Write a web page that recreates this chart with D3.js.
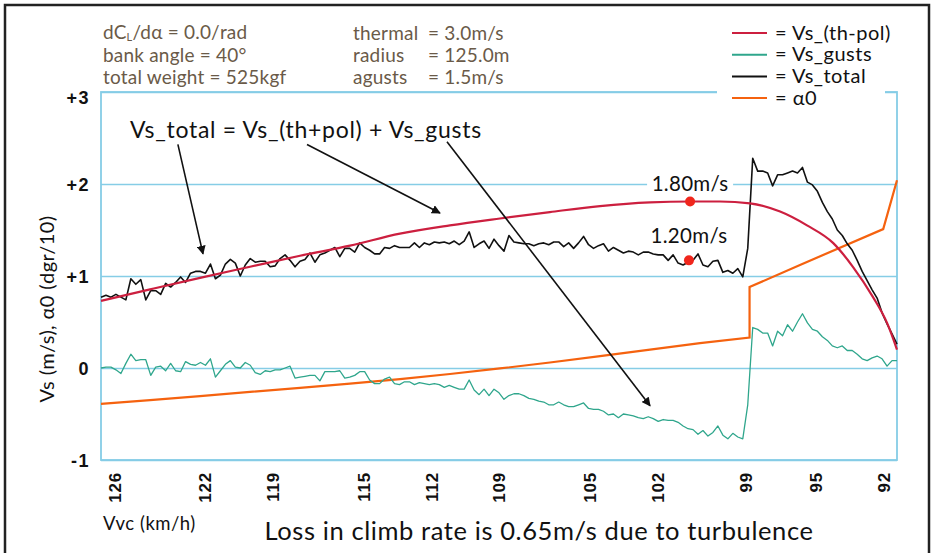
<!DOCTYPE html>
<html>
<head>
  <meta charset="utf-8">
  <title>Vs components vs Vvc</title>
  <script src="https://d3js.org/d3.v7.min.js"></script>
  <style>
    body { margin: 0; background: #fff; }
    svg { font-family: Lato, "Open Sans", sans-serif; }
    .grid line { stroke: #86cde6; stroke-width: 1.6; }
    .tick text { font-weight: 700; fill: #111; }
    .param { fill: #6a5a48; font-size: 19px; letter-spacing: 0.2px; }
    .legend text { font-size: 20px; fill: #111; letter-spacing: 0.5px; }
    .note { font-size: 23px; fill: #111; letter-spacing: 0.7px; }
  </style>
</head>
<body>

<svg width="934" height="553"></svg>

<script>
  // x axis: Vvc (km/h), y axis: Vs (m/s) and alpha0 (dgr/10)
  const xTickValues = [126, 122, 119, 115, 112, 109, 105, 102, 98.1, 95, 92];
  const xTickLabels = ["126", "122", "119", "115", "112", "109", "105", "102", "99", "95", "92"];
  const yTickValues = [-1, 0, 1, 2, 3];
  const yTickLabels = ["-1", "0", "+1", "+2", "+3"];

  // Vs_(th-pol), smooth curve
  const polVvc = [126.6, 124.43, 122.22, 120.01, 117.8, 115.59, 113.38, 111.17, 108.96, 106.75,
                  104.53, 102.32, 100.55, 99.23, 97.9, 96.57, 95.38, 94.23, 93.35, 92.46, 91.84, 91.4];
  const polVs  = [0.73, 0.855, 0.98, 1.10, 1.22, 1.33, 1.46, 1.55, 1.625, 1.695,
                  1.76, 1.80, 1.81, 1.81, 1.79, 1.70, 1.55, 1.36, 1.10, 0.77, 0.49, 0.20];

  // alpha0 (dgr/10)
  const alphaVvc = [126.6, 124.43, 122.22, 120.01, 117.8, 115.59, 113.38, 111.17, 108.96, 106.75,
                    104.53, 102.32, 100.11, 97.92, 97.92, 95.69, 92.01, 91.4];
  const alpha0   = [-0.39, -0.35, -0.305, -0.26, -0.215, -0.17, -0.12, -0.065, -0.005, 0.06,
                    0.13, 0.20, 0.27, 0.33, 0.88, 1.12, 1.51, 2.04];

  // noisy series, sampled every 0.22 km/h starting at 126.6
  const sampleStart = 126.6;
  const sampleStep = -0.22;
  const vsTotal = [
    0.77, 0.79, 0.77, 0.80, 0.77, 0.74, 0.97, 0.91, 0.96, 0.74,
    0.84, 0.84, 0.80, 0.92, 0.88, 0.93, 0.99, 0.93, 1.03, 1.05,
    1.05, 1.03, 1.13, 0.97, 1.01, 1.13, 1.18, 1.14, 1.00, 1.12,
    1.19, 1.15, 1.16, 1.16, 1.10, 1.11, 1.19, 1.23, 1.17, 1.10,
    1.16, 1.18, 1.25, 1.15, 1.23, 1.25, 1.28, 1.31, 1.21, 1.30,
    1.30, 1.26, 1.36, 1.31, 1.28, 1.24, 1.24, 1.31, 1.30, 1.33,
    1.31, 1.31, 1.31, 1.36, 1.31, 1.36, 1.34, 1.37, 1.36, 1.37,
    1.35, 1.38, 1.34, 1.38, 1.48, 1.31, 1.35, 1.38, 1.30, 1.40,
    1.33, 1.27, 1.44, 1.37, 1.36, 1.35, 1.35, 1.33, 1.35, 1.36,
    1.34, 1.37, 1.37, 1.32, 1.36, 1.30, 1.36, 1.43, 1.34, 1.30,
    1.33, 1.35, 1.27, 1.31, 1.28, 1.25, 1.27, 1.26, 1.23, 1.26,
    1.26, 1.24, 1.23, 1.23, 1.17, 1.23, 1.14, 1.12, 1.15, 1.17,
    1.24, 1.12, 1.10, 1.16, 1.17, 1.04, 1.06, 1.03, 1.08, 0.99,
    1.30, 2.28, 2.14, 2.14, 2.12, 1.98, 2.10, 2.10, 2.12, 2.14,
    2.12, 2.18, 2.02, 1.99, 1.92, 1.80, 1.70, 1.62, 1.50, 1.44,
    1.35, 1.28, 1.17, 1.05, 0.95, 0.85, 0.76, 0.60, 0.48, 0.37,
    0.26
  ];
  const vsGusts = [
    0.00, 0.01, 0.01, -0.02, -0.06, 0.05, 0.15, 0.08, 0.09, 0.09,
    -0.08, 0.01, 0.02, -0.03, 0.05, -0.03, -0.04, 0.07, 0.04, 0.03,
    0.06, 0.03, 0.10, -0.10, -0.03, 0.04, 0.08, 0.01, 0.00, 0.06,
    0.03, -0.05, -0.07, -0.03, -0.04, -0.02, -0.02, 0.00, 0.02, -0.11,
    -0.10, -0.09, -0.08, -0.08, -0.14, -0.04, -0.04, -0.04, -0.03, -0.11,
    -0.10, -0.08, -0.04, -0.04, -0.13, -0.17, -0.17, -0.12, -0.10, -0.17,
    -0.18, -0.15, -0.15, -0.18, -0.16, -0.17, -0.18, -0.17, -0.18, -0.21,
    -0.19, -0.21, -0.23, -0.23, -0.13, -0.24, -0.29, -0.23, -0.30, -0.23,
    -0.27, -0.34, -0.30, -0.28, -0.28, -0.30, -0.33, -0.34, -0.36, -0.37,
    -0.40, -0.40, -0.37, -0.40, -0.42, -0.42, -0.40, -0.38, -0.44, -0.45,
    -0.45, -0.47, -0.51, -0.50, -0.54, -0.50, -0.51, -0.52, -0.54, -0.55,
    -0.53, -0.55, -0.58, -0.56, -0.57, -0.57, -0.59, -0.63, -0.66, -0.67,
    -0.72, -0.68, -0.74, -0.70, -0.63, -0.73, -0.77, -0.71, -0.75, -0.77,
    -0.40, 0.44, 0.42, 0.38, 0.38, 0.24, 0.40, 0.35, 0.47, 0.40,
    0.50, 0.59, 0.49, 0.42, 0.40, 0.34, 0.30, 0.24, 0.22, 0.24,
    0.19, 0.19, 0.15, 0.10, 0.08, 0.11, 0.13, 0.10, 0.02, 0.08,
    0.08
  ];

  // marked points
  const markVvc = [100.55, 100.6];
  const markVs = [1.81, 1.17];
  const markLabels = ["1.80m/s", "1.20m/s"];
  const markLabelVs = [1.92, 1.36];

  const seriesNames = ["= Vs_(th-pol)", "= Vs_gusts", "= Vs_total", "= \u03b10"];
  const seriesColors = ["#cc1f3f", "#2fa68c", "#111111", "#f5620f"];

  const svg = d3.select("svg");
  const W = 934, H = 553;
  const margin = { top: 92, right: 37, bottom: 93, left: 101 };

  const x = d3.scaleLinear().domain([126.6, 91.4]).range([margin.left, W - margin.right]);
  const y = d3.scaleLinear().domain([-1, 3]).range([H - margin.bottom, margin.top]);

  // outer frame
  svg.append("rect")
    .attr("x", 5).attr("y", 5).attr("width", 924).attr("height", 560)
    .attr("fill", "none").attr("stroke", "#222").attr("stroke-width", 2.5);

  // grid lines and plot border
  svg.append("g")
    .attr("class", "grid")
    .attr("transform", `translate(${margin.left},0)`)
    .call(d3.axisLeft(y).tickValues(yTickValues).tickSize(-(x.range()[1] - x.range()[0])).tickFormat(""))
    .call(g => g.select(".domain").remove());
  svg.append("rect")
    .attr("x", x.range()[0]).attr("y", y(3))
    .attr("width", x.range()[1] - x.range()[0]).attr("height", y(-1) - y(3))
    .attr("fill", "none").attr("stroke", "#86cde6").attr("stroke-width", 1.8);

  // y axis labels
  const yAxis = svg.append("g")
    .attr("transform", `translate(${margin.left},0)`)
    .call(d3.axisLeft(y).tickValues(yTickValues).tickSize(0).tickPadding(11)
      .tickFormat((d, i) => yTickLabels[i]))
    .call(g => g.select(".domain").remove());
  yAxis.selectAll("text").attr("font-size", 18).attr("letter-spacing", "1.5px")
    .attr("dy", d => d === 3 ? "0.65em" : "0.35em");

  // x axis labels, rotated
  const xAxis = svg.append("g")
    .attr("transform", `translate(0,${y(-1)})`)
    .call(d3.axisBottom(x).tickValues(xTickValues).tickSize(0)
      .tickFormat((d, i) => xTickLabels[i]))
    .call(g => g.select(".domain").remove());
  xAxis.selectAll("text")
    .attr("font-size", 17).attr("letter-spacing", "0.8px")
    .attr("transform", "rotate(-90)")
    .attr("text-anchor", "end")
    .attr("x", -12).attr("y", 0).attr("dy", "0.35em");

  // axis titles
  svg.append("text")
    .attr("transform", `translate(54,309) rotate(-90)`)
    .attr("text-anchor", "middle").attr("font-size", 20).attr("fill", "#111")
    .attr("letter-spacing", "0.4px")
    .text("Vs (m/s), \u03b10 (dgr/10)");
  svg.append("text")
    .attr("x", 103).attr("y", 530).attr("font-size", 18.5).attr("fill", "#111")
    .attr("letter-spacing", "0.5px")
    .text("Vvc (km/h)");
  svg.append("text")
    .attr("x", 539).attr("y", 540).attr("text-anchor", "middle")
    .attr("font-size", 25.5).attr("fill", "#111").attr("letter-spacing", "0.6px")
    .text("Loss in climb rate is 0.65m/s due to turbulence");

  // parameter block
  const p1 = svg.append("text").attr("class", "param").attr("x", 103).attr("y", 39);
  p1.append("tspan").text("dC");
  p1.append("tspan").attr("font-size", 11).attr("dy", 2).text("L");
  p1.append("tspan").attr("dy", -2).text("/d\u03b1 = 0.0/rad");
  svg.append("text").attr("class", "param").attr("x", 103).attr("y", 62).text("bank angle = 40\u00b0");
  svg.append("text").attr("class", "param").attr("x", 103).attr("y", 84).text("total weight = 525kgf");

  const paramNames = ["thermal", "radius", "agusts"];
  const paramValues = ["= 3.0m/s", "= 125.0m", "= 1.5m/s"];
  paramNames.forEach((n, i) => {
    svg.append("text").attr("class", "param").attr("x", 353).attr("y", 40 + i * 22).text(n);
    svg.append("text").attr("class", "param").attr("x", 428).attr("y", 40 + i * 22).text(paramValues[i]);
  });

  // legend with white box over the plot border
  svg.append("rect").attr("x", 717).attr("y", 14).attr("width", 168).attr("height", 94).attr("fill", "#fff");
  const legend = svg.append("g").attr("class", "legend");
  seriesNames.forEach((n, i) => {
    const ly = 33 + i * 21.7;
    legend.append("line")
      .attr("x1", 732).attr("x2", 767).attr("y1", ly).attr("y2", ly)
      .attr("stroke", seriesColors[i]).attr("stroke-width", 2);
    legend.append("text").attr("x", 775).attr("y", ly + 6.5).text(n);
  });

  // label background (hides the grid behind the 1.80 label)
  svg.append("rect")
    .attr("x", x(markVvc[0]) - 43).attr("y", y(markLabelVs[0]) - 17)
    .attr("width", 86).attr("height", 22).attr("fill", "#fff");

  // lines
  const lineXY = d3.line().x(d => x(d[0])).y(d => y(d[1]));
  const sampled = arr => arr.map((v, i) => [sampleStart + i * sampleStep, v]);

  svg.append("path")
    .datum(alphaVvc.map((v, i) => [v, alpha0[i]]))
    .attr("d", lineXY)
    .attr("fill", "none").attr("stroke", seriesColors[3]).attr("stroke-width", 2.2);

  svg.append("path")
    .datum(sampled(vsGusts))
    .attr("d", lineXY)
    .attr("fill", "none").attr("stroke", seriesColors[1]).attr("stroke-width", 1.3)
    .attr("stroke-linejoin", "round");

  svg.append("path")
    .datum(sampled(vsTotal))
    .attr("d", lineXY)
    .attr("fill", "none").attr("stroke", seriesColors[2]).attr("stroke-width", 1.6)
    .attr("stroke-linejoin", "round");

  svg.append("path")
    .datum(polVvc.map((v, i) => [v, polVs[i]]))
    .attr("d", d3.line().x(d => x(d[0])).y(d => y(d[1])).curve(d3.curveMonotoneX))
    .attr("fill", "none").attr("stroke", seriesColors[0]).attr("stroke-width", 2.2);

  // marked points and their labels
  svg.selectAll(".mark")
    .data(markVvc)
    .enter().append("circle")
    .attr("class", "mark")
    .attr("cx", d => x(d)).attr("cy", (d, i) => y(markVs[i]))
    .attr("r", 5).attr("fill", "#f0261c");
  svg.selectAll(".marklabel")
    .data(markLabels)
    .enter().append("text")
    .attr("class", "marklabel")
    .attr("x", (d, i) => x(markVvc[i])).attr("y", (d, i) => y(markLabelVs[i]))
    .attr("text-anchor", "middle").attr("font-size", 20.5).attr("fill", "#111")
    .attr("letter-spacing", "0.3px")
    .text(d => d);

  // formula and arrows
  svg.append("text").attr("class", "note")
    .attr("x", x(125.32)).attr("y", y(2.5))
    .text("Vs_total = Vs_(th+pol) + Vs_gusts");

  svg.append("defs").append("marker")
    .attr("id", "arrow").attr("viewBox", "0 0 10 10")
    .attr("refX", 9).attr("refY", 5)
    .attr("markerWidth", 9).attr("markerHeight", 9)
    .attr("markerUnits", "userSpaceOnUse")
    .attr("orient", "auto")
    .append("path").attr("d", "M0,0L10,5L0,10z").attr("fill", "#111");

  const arrows = [
    [[123.2, 2.43], [122.09, 1.24]],
    [[117.49, 2.43], [111.61, 1.685]],
    [[111.3, 2.46], [102.32, -0.41]]
  ];
  svg.selectAll(".arrow")
    .data(arrows)
    .enter().append("line")
    .attr("class", "arrow")
    .attr("x1", d => x(d[0][0])).attr("y1", d => y(d[0][1]))
    .attr("x2", d => x(d[1][0])).attr("y2", d => y(d[1][1]))
    .attr("stroke", "#111").attr("stroke-width", 1.6)
    .attr("marker-end", "url(#arrow)");
</script>

</body>
</html>
